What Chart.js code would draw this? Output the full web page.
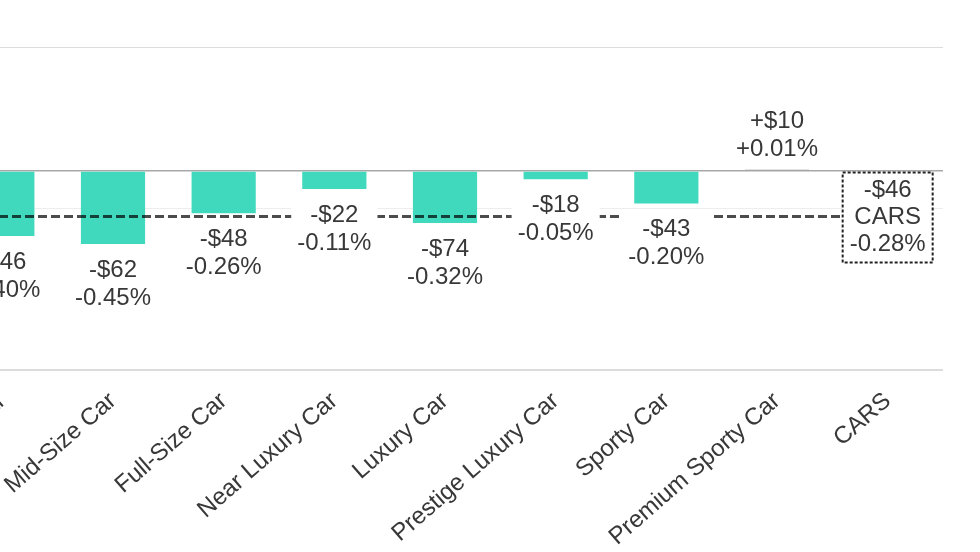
<!DOCTYPE html>
<html>
<head>
<meta charset="utf-8">
<script src="https://cdn.jsdelivr.net/npm/chart.js@4.4.1/dist/chart.umd.min.js"></script>
<style>
  html, body { margin: 0; padding: 0; background: #fff; overflow: hidden; }
  body { width: 980px; height: 552px; position: relative; }
  #wrap { position: absolute; left: -53px; top: 0; width: 1000px; height: 552px; }
</style>
</head>
<body>
<div id="wrap"><canvas id="chart"></canvas></div>
<script>
const categories = ["Compact Car", "Mid-Size Car", "Full-Size Car", "Near Luxury Car", "Luxury Car",
  "Prestige Luxury Car", "Sporty Car", "Premium Sporty Car", "CARS"];
const pctChange = [-0.40, -0.45, -0.26, -0.11, -0.32, -0.05, -0.20, 0.01, -0.28];
const dollarChange = [-46, -62, -48, -22, -74, -18, -43, 10, -46];
const gridValues = [0.765, 0, -0.23, -1.226];

const colors = {
  bar: "#40d9be",
  barPositive: "#8a8a8a",
  text: "#383838",
  zeroLine: "#a8a8a8",
  grid: "#dcdcdc",
  faintGrid: "#ededed",
  avgLine: "rgba(0,0,0,0.7)",
};
const FONT = "'Liberation Sans', Arial, sans-serif";

const fmtDollar = v => (v < 0 ? "-$" : "+$") + Math.abs(v);
const fmtPct = v => (v > 0 ? "+" : "") + v.toFixed(2) + "%";

const lastIdx = categories.length - 1;

// labels under/over bars, dashed average line and the CARS box
const valueLabels = {
  id: "valueLabels",
  afterDatasetsDraw(chart) {
    const { ctx, chartArea } = chart;
    const meta = chart.getDatasetMeta(0);
    const avgBar = meta.data[lastIdx];
    const avgY = avgBar.y;
    const boxW = 90, boxH = 90;

    ctx.save();
    ctx.strokeStyle = colors.avgLine;
    ctx.lineWidth = 3;
    ctx.setLineDash([9, 4]);
    ctx.beginPath();
    ctx.moveTo(chartArea.left, avgY);
    ctx.lineTo(avgBar.x - boxW / 2, avgY);
    ctx.stroke();
    ctx.restore();

    ctx.save();
    ctx.font = "24px " + FONT;
    ctx.textAlign = "center";
    ctx.textBaseline = "middle";
    meta.data.forEach((bar, i) => {
      if (i === lastIdx) {
        const cy = avgY + 1;
        ctx.fillStyle = "#fff";
        ctx.fillRect(bar.x - boxW / 2, cy - boxH / 2, boxW, boxH);
        ctx.save();
        ctx.strokeStyle = "#222";
        ctx.lineWidth = 2;
        ctx.setLineDash([3, 2]);
        ctx.strokeRect(bar.x - boxW / 2, cy - boxH / 2, boxW, boxH);
        ctx.restore();
        ctx.fillStyle = colors.text;
        ctx.fillText(fmtDollar(dollarChange[i]), bar.x, cy - 27);
        ctx.fillText(categories[i], bar.x, cy);
        ctx.fillText(fmtPct(pctChange[i]), bar.x, cy + 27);
        return;
      }
      const lines = [fmtDollar(dollarChange[i]), fmtPct(pctChange[i])];
      const y1 = pctChange[i] < 0 ? bar.y + 26 : bar.y - 48;
      const w = Math.max(...lines.map(t => ctx.measureText(t).width)) + 12;
      ctx.fillStyle = "#fff";
      ctx.fillRect(bar.x - w / 2, y1 - 17, w, 60);
      ctx.fillStyle = colors.text;
      ctx.fillText(lines[0], bar.x, y1);
      ctx.fillText(lines[1], bar.x, y1 + 28);
    });
    ctx.restore();
  }
};

const ctx = document.getElementById("chart").getContext("2d");
new Chart(ctx, {
  type: "bar",
  data: {
    labels: categories,
    datasets: [{
      data: pctChange,
      backgroundColor: pctChange.map((v, i) =>
        i === lastIdx ? "rgba(0,0,0,0)" : (v >= 0 ? colors.barPositive : colors.bar)),
      borderColor: colors.barPositive,
      borderWidth: pctChange.map(v => v >= 0 ? 1 : 0),
      barPercentage: 0.58,
      categoryPercentage: 1,
    }]
  },
  options: {
    responsive: true,
    maintainAspectRatio: false,
    animation: false,
    layout: { padding: { top: 47, right: 4, left: 0, bottom: 0 } },
    plugins: {
      legend: { display: false },
      tooltip: { enabled: false },
    },
    scales: {
      x: {
        grid: { display: false },
        border: { display: false },
        ticks: {
          color: colors.text,
          font: { family: FONT, size: 24 },
          minRotation: 41,
          maxRotation: 41,
          padding: 9,
          autoSkip: false,
        },
        afterFit: s => {
          s.height = 182;
          s.paddingLeft = 0;
          s.paddingRight = 0;
        },
      },
      y: {
        min: Math.min(...gridValues),
        max: Math.max(...gridValues),
        border: { display: false },
        ticks: { display: false },
        grid: {
          drawTicks: false,
          color: c => c.tick.value === 0 ? colors.zeroLine
            : (c.tick.value === gridValues[2] ? colors.faintGrid : colors.grid),
          lineWidth: c => c.tick.value === 0 ? 1.5 : (c.tick.value === gridValues[3] ? 2 : 1),
        },
        afterBuildTicks: s => { s.ticks = gridValues.map(v => ({ value: v })); },
        afterFit: s => { s.width = 0; },
      },
    },
  },
  plugins: [valueLabels],
});
</script>
</body>
</html>
